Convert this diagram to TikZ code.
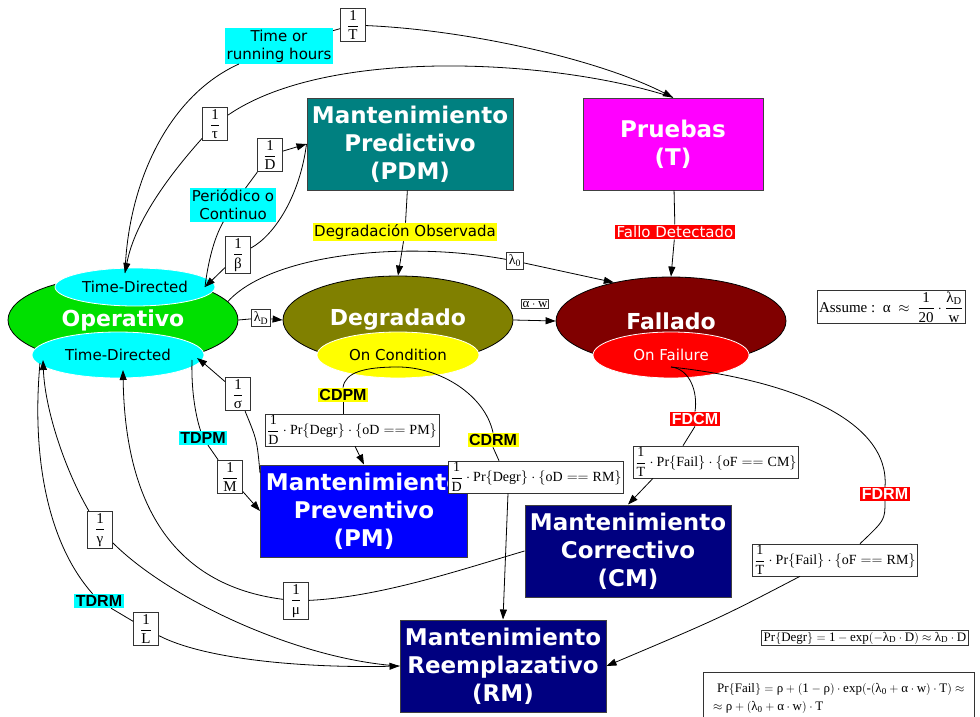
\documentclass[tikz,border=0pt]{standalone}
\usepackage{amsmath}
\usepackage{fontspec}
\setmainfont{Liberation Serif}
\setsansfont{DejaVu Sans}
\newfontfamily\arialf{Liberation Sans}
\usetikzlibrary{shapes.geometric,arrows.meta,calc}
\definecolor{opgreen}{HTML}{00E000}
\definecolor{olivec}{HTML}{808000}
\definecolor{darkred}{HTML}{800000}
\definecolor{tealc}{HTML}{008080}
\definecolor{navyc}{HTML}{000080}
\definecolor{magc}{HTML}{FF00FF}
\definecolor{cyanc}{HTML}{00FFFF}
\definecolor{yelc}{HTML}{FFFF00}
\definecolor{redc}{HTML}{FF0000}
\definecolor{bluec}{HTML}{0000FF}
\newcommand\fr[2]{$\dfrac{\text{#1}}{\text{#2}}$}
\tikzset{
  arr/.style={-{Triangle[length=10pt,width=7pt]}},
  bigbox/.style={rectangle, draw=black!75, line width=1pt, text=white, align=center,
    inner sep=0pt, minimum width=206pt, minimum height=92pt,
    font=\fontsize{23}{28}\selectfont\sffamily\bfseries},
  bigell/.style={ellipse, draw=black, line width=0.8pt, inner sep=0pt, text=white,
    minimum width=230pt, minimum height=88pt,
    font=\fontsize{22}{26}\selectfont\sffamily\bfseries},
  smell/.style={ellipse, draw=white, line width=0.8pt, inner sep=0pt,
    font=\fontsize{15}{18}\selectfont\sffamily},
  tag/.style={inner sep=1.5pt, align=center, font=\fontsize{15}{18}\selectfont\sffamily},
  btag/.style={inner sep=1.5pt, font=\arialf\fontsize{16}{18}\selectfont\bfseries},
  fbox/.style={draw=black!80, fill=white, line width=0.8pt, inner xsep=2pt, inner ysep=1.5pt,
    font=\fontsize{14}{16}\selectfont\rmfamily},
  frbox/.style={fbox, minimum width=25pt, inner ysep=2pt, font=\fontsize{15}{17}\selectfont\rmfamily},
  smallf/.style={font=\fontsize{13}{15}\selectfont\rmfamily},
  conn/.style={line width=0.8pt}
}
\begin{document}
\begin{tikzpicture}[x=1pt,y=-1pt]
\useasboundingbox (0,0) rectangle (980,717);
\fill[white] (0,0) rectangle (980,717);

% big ellipses
\node[bigell, fill=opgreen] (op) at (123,320) {Operativo};
\node[bigell, fill=olivec] (deg) at (398,320) {Degradado};
\node[bigell, fill=darkred] (fal) at (671,321) {Fallado};
% small ellipses
\node[smell, fill=cyanc, minimum width=160pt, minimum height=38pt] (tdt) at (135,287) {Time-Directed};
\node[smell, fill=cyanc, minimum width=172pt, minimum height=46pt] (tdb) at (118,355) {Time-Directed};
\node[smell, fill=yelc, minimum width=162pt, minimum height=46pt] (oc) at (398,355) {On Condition};
\node[smell, fill=redc, text=white, minimum width=156pt, minimum height=46pt] (of) at (671,355) {On Failure};

% boxes
\node[bigbox, fill=tealc] (pdm) at (410,144) {Mantenimiento\\Predictivo\\(PDM)};
\node[bigbox, fill=magc, minimum width=180pt] (pr) at (673,144) {Pruebas\\(T)};
\node[bigbox, fill=bluec, minimum width=207pt] (pm) at (364,511) {Mantenimiento\\Preventivo\\(PM)};
\node[bigbox, fill=navyc] (cm) at (628,551) {Mantenimiento\\Correctivo\\(CM)};
\node[bigbox, fill=navyc] (rm) at (503,666) {Mantenimiento\\Reemplazativo\\(RM)};

% coloured tags
\node[tag, fill=cyanc] (trh) at (279,46) {Time or\\running hours};
\node[tag, fill=cyanc] (perio) at (233,205) {Periódico o\\Continuo};
\node[tag, fill=yelc] (dego) at (405,232) {Degradación Observada};
\node[tag, fill=redc, text=white] (fdet) at (675,232) {Fallo Detectado};
\node[btag, fill=yelc] (cdpm) at (343,395) {CDPM};
\node[btag, fill=yelc] (cdrm) at (493,440) {CDRM};
\node[btag, fill=redc, text=white] (fdcm) at (695,419) {FDCM};
\node[btag, fill=redc, text=white] (fdrm) at (885,494) {FDRM};
\node[btag, fill=cyanc] (tdpm) at (203,438) {TDPM};
\node[btag, fill=cyanc] (tdrm) at (99,601) {TDRM};

% fraction labels
\node[frbox] (oneT) at (353,25) {\fr{1}{T}};
\node[frbox] (oneTau) at (215,124) {\fr{1}{τ}};
\node[frbox] (oneD) at (270,155) {\fr{1}{D}};
\node[frbox] (oneBeta) at (238,255) {\fr{1}{β}};
\node[frbox] (oneSigma) at (238,394) {\fr{1}{σ}};
\node[frbox] (oneM) at (230,477) {\fr{1}{M}};
\node[frbox] (oneGamma) at (100,530) {\fr{1}{γ}};
\node[frbox] (oneL) at (146,629) {\fr{1}{L}};
\node[frbox] (oneMu) at (296,601) {\fr{1}{μ}};
\node[fbox, inner sep=2.5pt] (lam0) at (515,261) {$\text{λ}_{\text{0}}$};
\node[fbox, inner sep=2.5pt] (lamD) at (261,318) {$\text{λ}_{\text{D}}$};
\node[fbox, inner sep=1pt, smallf] (aw) at (535,304) {$\text{α}\cdot\text{w}$};

% formula boxes
\node[fbox] (fcdpm) at (352,430) {$\dfrac{\text{1}}{\text{D}}\cdot\text{Pr}\{\text{Degr}\}\cdot\left\{\text{oD}==\text{PM}\right\}$};
\node[fbox] (fcdrm) at (536,477) {$\dfrac{\text{1}}{\text{D}}\cdot\text{Pr}\{\text{Degr}\}\cdot\left\{\text{oD}==\text{RM}\right\}$};
\node[fbox] (ffdcm) at (716,462) {$\dfrac{\text{1}}{\text{T}}\cdot\text{Pr}\{\text{Fail}\}\cdot\left\{\text{oF}==\text{CM}\right\}$};
\node[fbox] (ffdrm) at (835,560) {$\dfrac{\text{1}}{\text{T}}\cdot\text{Pr}\{\text{Fail}\}\cdot\left\{\text{oF}==\text{RM}\right\}$};
\node[fbox, font=\fontsize{15}{17}\selectfont\rmfamily] (assume) at (891,307) {$\text{Assume :}\ \ \text{α}\ \approx\ \dfrac{\text{1}}{\text{20}}\cdot\dfrac{\text{λ}_{\text{D}}}{\text{w}}$};
\node[fbox, smallf] (prdegr) at (865,638) {$\text{Pr}\{\text{Degr}\}=\text{1}-\text{exp}(-\text{λ}_{\text{D}}\cdot\text{D})\approx\text{λ}_{\text{D}}\cdot\text{D}$};
\node[fbox, smallf, anchor=north west, align=left, inner ysep=3pt, minimum width=271pt, minimum height=50pt, text depth=0pt] (prfail) at (703,672)
  {\hspace{4pt}$\text{Pr}\{\text{Fail}\}=\text{ρ}+(\text{1}-\text{ρ})\cdot\text{exp}(\text{-}(\text{λ}_{\text{0}}+\text{α}\cdot\text{w})\cdot\text{T})\approx$\\[3pt]
   $\approx\text{ρ}+(\text{λ}_{\text{0}}+\text{α}\cdot\text{w})\cdot\text{T}$};

% helper coordinates on the small ellipses
\coordinate (tdtA) at ($(tdt.center)+(-10,-14)$);
\coordinate (tdtB) at ($(tdt.center)+(70,0)$);
\coordinate (tdbA) at ($(tdb.center)+(79,3)$);
\coordinate (tdbB) at ($(tdb.center)+(74,5)$);
\coordinate (tdbC) at ($(tdb.center)+(5,15)$);
\coordinate (tdbD) at ($(tdb.center)+(-75,5)$);
\coordinate (tdbE) at ($(tdb.center)+(-78,8)$);
\coordinate (ocp) at ($(oc.center)+(0,12)$);
\coordinate (ofp) at ($(of.center)+(0,12)$);

% connectors
\begin{scope}[conn]
% Operativo -> Pruebas
\draw (tdtA) .. controls (128,180) and (170,95) .. (trh);
\draw (trh) -- (oneT);
\draw[arr] (oneT) .. controls (470,30) and (600,60) .. (pr.north);
% Pruebas -> Operativo
\draw (pr.north) .. controls (560,60) and (330,45) .. (oneTau);
\draw[arr] (oneTau) .. controls (172,172) and (135,220) .. (tdtA);
% Operativo -> PDM
\draw (tdtB) .. controls (208,262) and (214,238) .. (perio);
\draw (perio) -- (oneD);
\draw[arr] (oneD) -- (pdm.west);
% PDM -> Operativo
\draw (pdm.west) .. controls (300,195) and (275,235) .. (oneBeta);
\draw[arr] (oneBeta) -- (tdtB);
% PDM -> Degradado
\draw (pdm) -- (dego);
\draw[arr] (dego) -- (deg.north);
% Pruebas -> Fallado
\draw (pr) -- (fdet);
\draw[arr] (fdet) -- (fal.north);
% Operativo -> Fallado
\draw (op.10) .. controls (270,255) and (400,240) .. (lam0);
\draw[arr] (lam0) -- (fal.146);
% Operativo -> Degradado
\draw (op.east) -- (lamD);
\draw[arr] (lamD) -- (deg.west);
% Degradado -> Fallado
\draw[arr] (deg.east) -- (fal.west);
% On Condition -> PM
\draw (ocp) .. controls (365,367) and (345,372) .. (cdpm.north);
\draw (cdpm.south) -- (cdpm.south |- fcdpm.north);
\draw[arr] ([xshift=3pt]fcdpm.south) -- (pm.north);
% On Condition -> RM
\draw (ocp) .. controls (440,367) and (485,395) .. (cdrm.north);
\draw (cdrm.south) -- ([xshift=-37pt]fcdrm.north);
\draw[arr] ([xshift=-28pt]fcdrm.south) -- (rm.north);
% On Failure -> CM
\draw (ofp) .. controls (690,369) and (698,392) .. (fdcm.north);
\draw (fdcm.south) -- ([xshift=-33pt]ffdcm.north);
\draw[arr] ([xshift=-63pt]ffdcm.south) -- (cm.north);
% On Failure -> RM
\draw (ofp) .. controls (790,380) and (890,420) .. (fdrm.north);
\draw (fdrm.south) .. controls (885,520) .. ([xshift=25pt]ffdrm.north);
\draw[arr] ([xshift=-35pt]ffdrm.south) .. controls (720,618) .. (rm.east);
% PM -> Operativo
\draw ([yshift=38pt]pm.west) .. controls (257,440) .. (oneSigma);
\draw[arr] (oneSigma) .. controls (215,372) .. (tdbA);
% Operativo -> PM
\draw (tdbB) .. controls (191,395) and (197,420) .. (tdpm);
\draw (tdpm) -- (oneM);
\draw[arr] (oneM) -- (pm.west);
% CM -> Operativo
\draw (cm.west) .. controls (460,570) and (380,597) .. (oneMu);
\draw[arr] (oneMu) .. controls (170,585) and (125,500) .. (tdbC);
% RM -> Operativo
\draw (rm.west) .. controls (300,660) and (170,600) .. (oneGamma);
\draw[arr] (oneGamma) .. controls (65,470) and (45,410) .. (tdbD);
% Operativo -> RM
\draw (tdbE) .. controls (32,450) and (45,540) .. (tdrm);
\draw (tdrm) -- (oneL);
\draw[arr] (oneL) .. controls (210,662) and (320,668) .. (rm.west);
\end{scope}
\end{tikzpicture}
\end{document}
